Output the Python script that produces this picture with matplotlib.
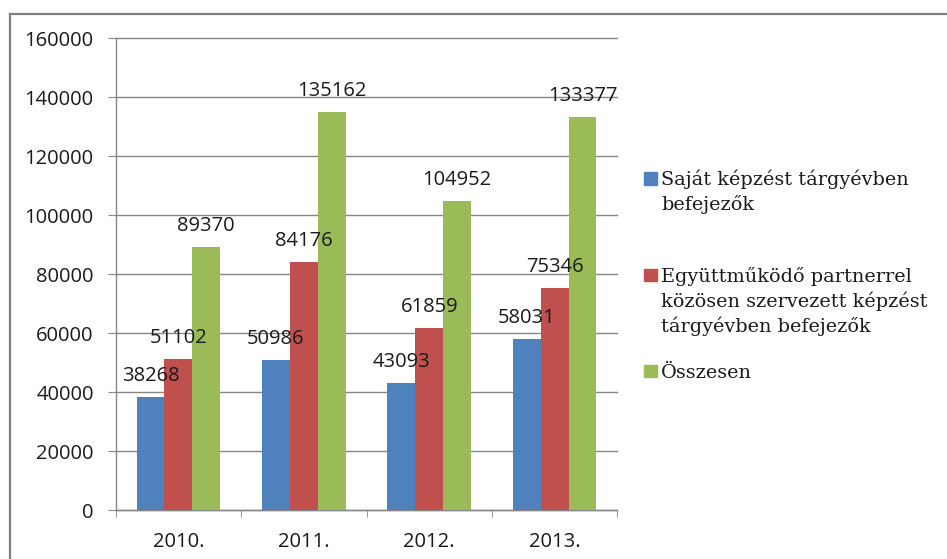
import numpy as np
import matplotlib
matplotlib.use("Agg")
from matplotlib import pyplot as plt
from matplotlib.lines import Line2D
from matplotlib.patches import Rectangle

# Data
years = ['2010.', '2011.', '2012.', '2013.']
sajat = [38268, 50986, 43093, 58031]
partner = [51102, 84176, 61859, 75346]
osszesen = [89370, 135162, 104952, 133377]

series_names = [['Saját képzést tárgyévben', 'befejezők'],
                ['Együttműködő partnerrel', 'közösen szervezett képzést', 'tárgyévben befejezők'],
                ['Összesen']]
colors = ['#4F81BD', '#C0504D', '#9BBB59']

W, H = 947, 559
fig = plt.figure(figsize=(W / 100, H / 100), dpi=100)

def fx(px):
    return px / W

def fy(py):
    return 1 - py / H

ax = fig.add_axes([fx(115.7), fy(510), fx(617.3) - fx(115.7), fy(38.5) - fy(510)])

gray = '#868686'
tick_font = {'family': 'Open Sans', 'size': 14.5}

x = np.arange(len(years))
w = 0.222
for i, vals in enumerate([sajat, partner, osszesen]):
    bars = ax.bar(x + (i - 1) * w, vals, w, color=colors[i], zorder=3)
    for b, v in zip(bars, vals):
        ax.annotate(str(v), (b.get_x() + b.get_width() / 2, v),
                    xytext=(0, 11.5), textcoords='offset points',
                    ha='center', va='baseline', fontfamily='Open Sans',
                    fontsize=14.5, color='#1a1a1a', zorder=4)

ax.set_xlim(-0.5, len(years) - 0.5)
ax.set_ylim(0, 160000)
ax.set_yticks(range(0, 160001, 20000))
ax.set_yticklabels([str(v) for v in range(0, 160001, 20000)], fontdict=tick_font)
ax.set_xticks(x)
ax.set_xticklabels(years, fontdict=tick_font)
ax.set_xticks(np.arange(len(years) + 1) - 0.5, minor=True)

ax.yaxis.grid(True, color=gray, linewidth=1.0, zorder=0)
ax.set_axisbelow(True)
for gl in ax.get_ygridlines():
    gl.set_clip_on(False)
for s in ['top', 'right']:
    ax.spines[s].set_visible(False)
for s in ['left', 'bottom']:
    ax.spines[s].set_color(gray)
    ax.spines[s].set_linewidth(1.0)

ax.tick_params(axis='y', length=5.8, color=gray, pad=10, labelcolor='#1a1a1a')
ax.tick_params(axis='x', which='major', length=0, pad=16, labelcolor='#1a1a1a')
ax.tick_params(axis='x', which='minor', length=5, color=gray)

# legend drawn by hand (Excel-like uneven spacing)
leg_font = {'family': 'DejaVu Serif', 'size': 13.9}
leg_baselines = [185, 281.7, 377.7]
line_step = 25
for lines, col, yb in zip(series_names, colors, leg_baselines):
    fig.add_artist(Rectangle((fx(644), fy(yb - 0.5)), fx(12.5), fy(0) - fy(12.5),
                             transform=fig.transFigure, color=col))
    for k, txt in enumerate(lines):
        fig.text(fx(661), fy(yb + k * line_step), txt, va='baseline', ha='left',
                 fontdict=leg_font, color='#1a1a1a')

# chart area border (only left and top visible in the crop)
fig.add_artist(Line2D([fx(9.5), fx(9.5)], [fy(13.5), 0], color='#808080', linewidth=1.6))
fig.add_artist(Line2D([fx(9.5), 1], [fy(13.5), fy(13.5)], color='#808080', linewidth=1.6))

fig.savefig('out.png', dpi=100)
